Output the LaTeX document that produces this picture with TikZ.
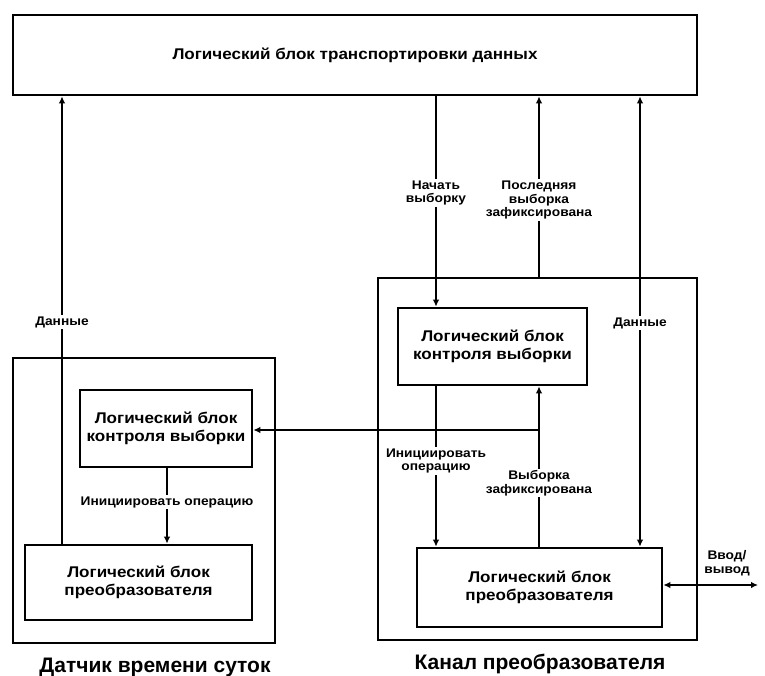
\documentclass[tikz,border=0pt]{standalone}
\usepackage{fontspec}
\setmainfont{Liberation Sans}
\newfontfamily\stretchfont[FakeStretch=1.1]{Liberation Sans}
\usetikzlibrary{arrows.meta}
\begin{document}
\begin{tikzpicture}[x=1pt,y=-1pt,
  blk/.style={draw, line width=2.6pt, inner sep=0pt, align=center, font=\stretchfont\bfseries\fontsize{15.5}{18}\selectfont},
  outerbox/.style={draw, line width=2.6pt, inner sep=0pt},
  conn/.style={line width=2.3pt},
  tip/.style={-{Latex[length=7pt,width=6.5pt]}},
  bitip/.style={{Latex[length=7pt,width=6.5pt]}-{Latex[length=7pt,width=6.5pt]}},
  lbl/.style={fill=white, inner sep=1.5pt, align=center, font=\stretchfont\bfseries\fontsize{12.5}{13.5}\selectfont},
  captxt/.style={font=\bfseries\fontsize{21}{24}\selectfont}]
\useasboundingbox (0,0) rectangle (765,676);
% blocks
\node[blk, minimum width=684pt, minimum height=80pt] (top) at (355,55) {Логический блок транспортировки данных};
\node[outerbox, minimum width=262pt, minimum height=285pt] (lbox) at (144,500.5) {};
\node[outerbox, minimum width=319pt, minimum height=362pt] (rbox) at (537.5,459) {};
\node[blk, minimum width=172pt, minimum height=77pt] (lctrl) at (166,428.5) {Логический блок\\контроля выборки};
\node[blk, minimum width=227pt, minimum height=75pt] (lconv) at (138.5,582.5) {Логический блок\\преобразователя};
\node[blk, minimum width=189pt, minimum height=77pt] (rctrl) at (492.5,346.5) {Логический блок\\контроля выборки};
\node[blk, minimum width=245pt, minimum height=79pt] (rconv) at (539.5,587.5) {Логический блок\\преобразователя};
% helper coordinates
\coordinate (c62) at (62,0);
\coordinate (c167) at (167,0);
\coordinate (c436) at (436,0);
\coordinate (c539) at (539,0);
\coordinate (c640) at (640,0);
\coordinate (hy) at (0,430);
\coordinate (junc) at (539,430);
\coordinate (io) at (758,585);
% connectors
\draw[conn,tip] (lconv.north -| c62) -- (top.south -| c62);
\draw[conn,tip] (top.south -| c436) -- (rctrl.north -| c436);
\draw[conn,tip] (rbox.north -| c539) -- (top.south -| c539);
\draw[conn,bitip] (top.south -| c640) -- (rconv.north -| c640);
\draw[conn,tip] (rctrl.south -| c436) -- (rconv.north -| c436);
\draw[conn,tip] (rconv.north -| c539) -- (rctrl.south -| c539);
\draw[conn,tip] (junc) -- (lctrl.east |- hy);
\draw[conn,tip] (lctrl.south -| c167) -- (lconv.north -| c167);
\draw[conn,bitip] (rconv.east |- io) -- (io);
% labels
\node[lbl] (l1) at (62,322) {Данные};
\node[lbl] (l2) at (436,193) {Начать\\выборку};
\node[lbl] (l3) at (539,200) {Последняя\\выборка\\зафиксирована};
\node[lbl] (l4) at (640,323) {Данные};
\node[lbl] (l5) at (436,461) {Инициировать\\операцию};
\node[lbl] (l6) at (539,483) {Выборка\\зафиксирована};
\node[lbl] (l7) at (167,502) {Инициировать операцию};
\node[lbl, fill=none] (l8) at (727,563) {Ввод/\\вывод};
% captions
\node[captxt] (cap1) at (155,667) {Датчик времени суток};
\node[captxt] (cap2) at (540,664) {Канал преобразователя};
\end{tikzpicture}
\end{document}
